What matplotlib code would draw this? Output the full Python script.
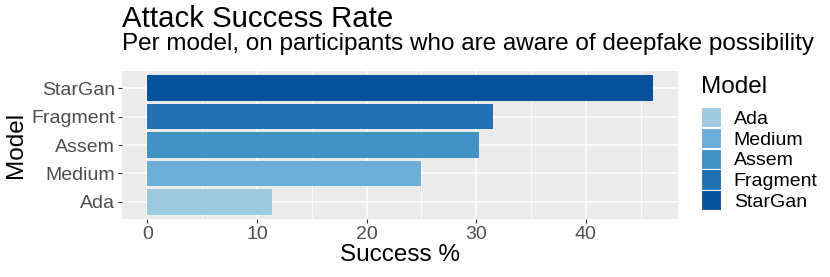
import numpy as np
import matplotlib.pyplot as plt
from matplotlib.patches import Patch

plt.rcParams['font.family'] = ['Liberation Sans', 'DejaVu Sans']

modelos = ['Ada', 'Medium', 'Assem', 'Fragment', 'StarGan']
exito = [11.4, 25.0, 30.3, 31.5, 46.1]
colores = ['#9ECAE1', '#6BAED6', '#4292C6', '#2171B5', '#08519C']

W, H = 830, 277
fig = plt.figure(figsize=(W / 100, H / 100), dpi=100)
# panel en pixeles: x 122-678, y 71-219
ax = fig.add_axes([122 / W, (H - 219) / H, (678 - 122) / W, (219 - 71) / H])
ax.set_facecolor('#EBEBEB')

y = np.arange(1, len(modelos) + 1)
ax.barh(y, exito, height=0.9, color=colores, zorder=3)

xmax = max(exito)
ax.set_xlim(-0.05 * xmax, xmax * 1.05)
ax.set_ylim(0.4, len(modelos) + 0.6)

ax.set_xticks([0, 10, 20, 30, 40])
ax.set_xticks([5, 15, 25, 35, 45], minor=True)
ax.set_yticks(y)
ax.set_yticklabels(modelos)
ax.grid(which='major', color='white', lw=1.1, zorder=0)
ax.grid(which='minor', axis='x', color='white', lw=0.55, zorder=0)
ax.tick_params(which='major', length=3, width=0.8, color='#333333',
               labelcolor='#4D4D4D', labelsize=14, pad=2)
ax.tick_params(which='minor', length=0)
for s in ax.spines.values():
    s.set_visible(False)

ax.set_xlabel('Success %', fontsize=17.5, labelpad=1)
ax.set_ylabel('Model', fontsize=17.5, labelpad=3)

fig.text(122 / W, 1 - 27 / H, 'Attack Success Rate', fontsize=21.2, va='baseline', ha='left')
fig.text(122 / W, 1 - 50 / H, 'Per model, on participants who are aware of deepfake possibility',
         fontsize=17.5, va='baseline', ha='left')

# leyenda: titulo aparte, claves debajo
fig.text(701 / W, 1 - 93 / H, 'Model', fontsize=17.5, va='baseline', ha='left')
manijas = [Patch(facecolor=c, edgecolor='white', lw=0.8) for c in colores]
leg = fig.legend(manijas, modelos, loc='upper left', bbox_to_anchor=(701 / W, 1 - 107 / H),
                 frameon=False, fontsize=14, borderpad=0, borderaxespad=0,
                 handlelength=1.03, handleheight=1.24, labelspacing=0.0,
                 handletextpad=0.65)

fig.savefig('out.png', dpi=100)
